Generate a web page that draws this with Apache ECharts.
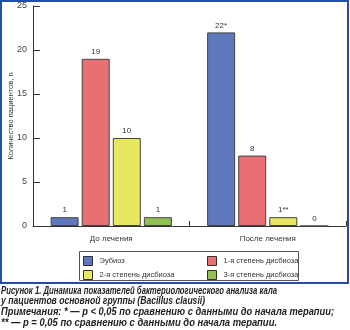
<!DOCTYPE html>
<html><head><meta charset="utf-8">
<script src="https://cdn.jsdelivr.net/npm/echarts@6/dist/echarts.min.js"></script>
<style>html,body{margin:0;padding:0;background:#fff}#c{width:350px;height:330px}</style>
</head><body><div id="c"></div>
<script>
var categories = ['До лечения', 'После лечения'];
var seriesNames = ['Эубиоз', '1-я степень дисбиоза', '2-я степень дисбиоза', '3-я степень дисбиоза'];
var eubiosis = [1, 22];
var dys1 = [19, 8];
var dys2 = [10, 1];
var dys3 = [1, 0];
var eubiosisLabels = ['1', '22*'];
var dys1Labels = ['19', '8'];
var dys2Labels = ['10', '1**'];
var dys3Labels = ['1', '0'];
var yTicks = [0, 5, 10, 15, 20, 25];
var captionLines = [
  'Рисунок 1. Динамика показателей бактериологического анализа кала',
  'у пациентов основной группы (Bacillus clausii)',
  'Примечания: * — p < 0,05 по сравнению с данными до начала терапии;',
  '** — p = 0,05 по сравнению с данными до начала терапии.'
];
var captionWidths = [276, 204, 333, 276];
var colors = ['#5e78bd', '#e87072', '#e8e860', '#90c050'];

var chart = echarts.init(document.getElementById('c'), null, {renderer: 'canvas'});
var font = 'Liberation Sans, Arial, sans-serif';
var capFont = 'italic bold 10px Liberation Sans';
var ctx = document.createElement('canvas').getContext('2d');
ctx.font = capFont;
var captionGraphics = captionLines.map(function (t, i) {
  var w = ctx.measureText(t).width;
  return {type: 'text', x: 1, y: 286 + i * 10.7, scaleX: captionWidths[i] / w, silent: true,
    style: {text: t, font: capFont, fill: '#222', textVerticalAlign: 'top'}};
});
function mk(i, data, labels) {
  return {
    name: seriesNames[i], type: 'bar', data: data,
    barWidth: 28, barGap: '11%',
    itemStyle: {color: colors[i], borderColor: '#444', borderWidth: 1},
    label: {show: true, position: 'top', distance: 3, fontSize: 8, color: '#333', fontFamily: font,
      formatter: function (p) { return labels[p.dataIndex]; }}
  };
}
var legendCommon = {orient: 'vertical', top: 256, icon: 'rect',
  itemWidth: 9, itemHeight: 9, itemGap: 4, padding: 0,
  textStyle: {fontSize: 7.5, color: '#333', padding: [0, 0, 0, 2], fontFamily: font},
  itemStyle: {borderColor: '#333', borderWidth: 1}};
chart.setOption({
  animation: false,
  textStyle: {fontFamily: font},
  grid: {left: 33, right: 4, top: 6, bottom: 104, containLabel: false, outerBoundsMode: 'none'},
  xAxis: {
    type: 'category', data: categories,
    axisLine: {lineStyle: {color: '#333', width: 1}},
    axisTick: {show: true, inside: true, length: 5, lineStyle: {color: '#333'}},
    axisLabel: {fontSize: 8, color: '#333', margin: 9, fontFamily: font}
  },
  yAxis: {
    type: 'value', min: yTicks[0], max: yTicks[yTicks.length - 1], interval: 5,
    name: 'Количество пациентов, n', nameLocation: 'middle', nameGap: 18, nameMoveOverlap: false,
    nameTextStyle: {fontSize: 7.5, color: '#333', fontFamily: font},
    axisLine: {show: true, lineStyle: {color: '#333', width: 1}},
    axisTick: {show: true, inside: true, length: 7, lineStyle: {color: '#333'}},
    axisLabel: {fontSize: 9, color: '#444', margin: 6, fontFamily: font},
    splitLine: {show: false}
  },
  legend: [
    Object.assign({data: [seriesNames[0], seriesNames[2]], left: 83}, legendCommon),
    Object.assign({data: [seriesNames[1], seriesNames[3]], left: 207}, legendCommon)
  ],
  graphic: [
    {type: 'rect', shape: {x: 1, y: 1, width: 347, height: 282}, style: {fill: 'none', stroke: '#1f4fa8', lineWidth: 2}, silent: true, z: -1},
    {type: 'rect', shape: {x: 79.5, y: 251.5, width: 219, height: 29}, style: {fill: 'none', stroke: '#555', lineWidth: 1}, silent: true}
  ].concat(captionGraphics),
  series: [mk(0, eubiosis, eubiosisLabels), mk(1, dys1, dys1Labels), mk(2, dys2, dys2Labels), mk(3, dys3, dys3Labels)]
});
</script></body></html>
